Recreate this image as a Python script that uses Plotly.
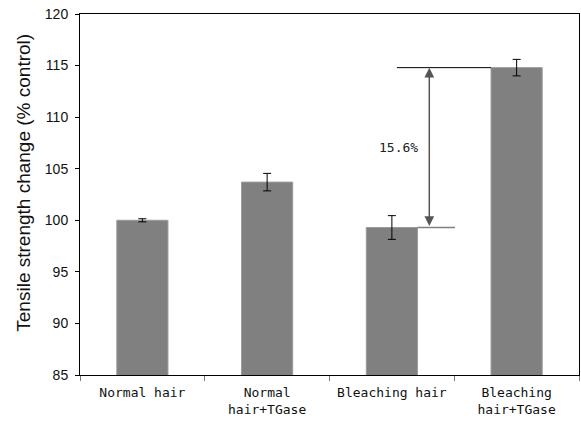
import plotly.graph_objects as go

categories = ["Normal hair", "Normal<br>hair+TGase", "Bleaching hair", "Bleaching<br>hair+TGase"]
values = [100.0, 103.7, 99.3, 114.8]
errors = [0.15, 0.85, 1.15, 0.8]
diff_label = "15.6%"
y_title = "Tensile strength change (% control)"

fig = go.Figure()
fig.add_trace(go.Bar(
    x=categories, y=values, width=0.41,
    marker=dict(color="#808080", line=dict(color="#9a9a9a", width=1)),
    error_y=dict(type="data", array=errors, color="black", thickness=1, width=4),
))

# annotation lines
fig.add_shape(type="line", xref="x", yref="y", x0=2.04, x1=2.795, y0=values[3], y1=values[3],
              line=dict(color="black", width=1))
fig.add_shape(type="line", xref="x", yref="y", x0=2.205, x1=2.506, y0=values[2], y1=values[2],
              line=dict(color="#808080", width=1.5))
fig.add_annotation(x=2.30, y=values[3], ax=2.30, ay=values[2], xref="x", yref="y",
                   axref="x", ayref="y", text="", showarrow=True, arrowside="end+start",
                   arrowhead=2, startarrowhead=2, arrowsize=1.3, startarrowsize=1.3,
                   arrowwidth=1.5, arrowcolor="#555555")
fig.add_annotation(x=2.057, y=107.1, xref="x", yref="y", text=diff_label, showarrow=False,
                   font=dict(family="DejaVu Sans Mono", size=13, color="#222"))
fig.add_annotation(x=-0.114, y=0.533, xref="paper", yref="paper", text=y_title, showarrow=False,
                   textangle=-90, xanchor="center", yanchor="middle",
                   font=dict(family="Liberation Sans", size=19, color="#111"))

fig.update_layout(
    width=581, height=421,
    margin=dict(l=80, r=2, t=14, b=46),
    paper_bgcolor="white", plot_bgcolor="white",
    showlegend=False,
    bargap=0.59,
)
fig.update_xaxes(
    type="category", tickson="boundaries", ticks="outside", ticklen=5, tickcolor="#777",
    showline=True, linecolor="black", linewidth=1, mirror=True, showgrid=False,
    automargin=False, ticklabelstandoff=5,
    tickfont=dict(family="DejaVu Sans Mono", size=13, color="#111"),
)
fig.update_yaxes(
    range=[85, 120], dtick=5, ticks="outside", ticklen=4, tickcolor="black",
    showline=True, linecolor="black", linewidth=1, mirror=True, showgrid=False,
    zeroline=False, automargin=False, ticklabelstandoff=4,
    tickfont=dict(family="Liberation Sans", size=14, color="#111"),
)

# remove the browser's default 8px body margin so the figure fills the window
fig.write_html("out.html", config={"displayModeBar": False},
               post_script="document.body.style.margin='0';")
